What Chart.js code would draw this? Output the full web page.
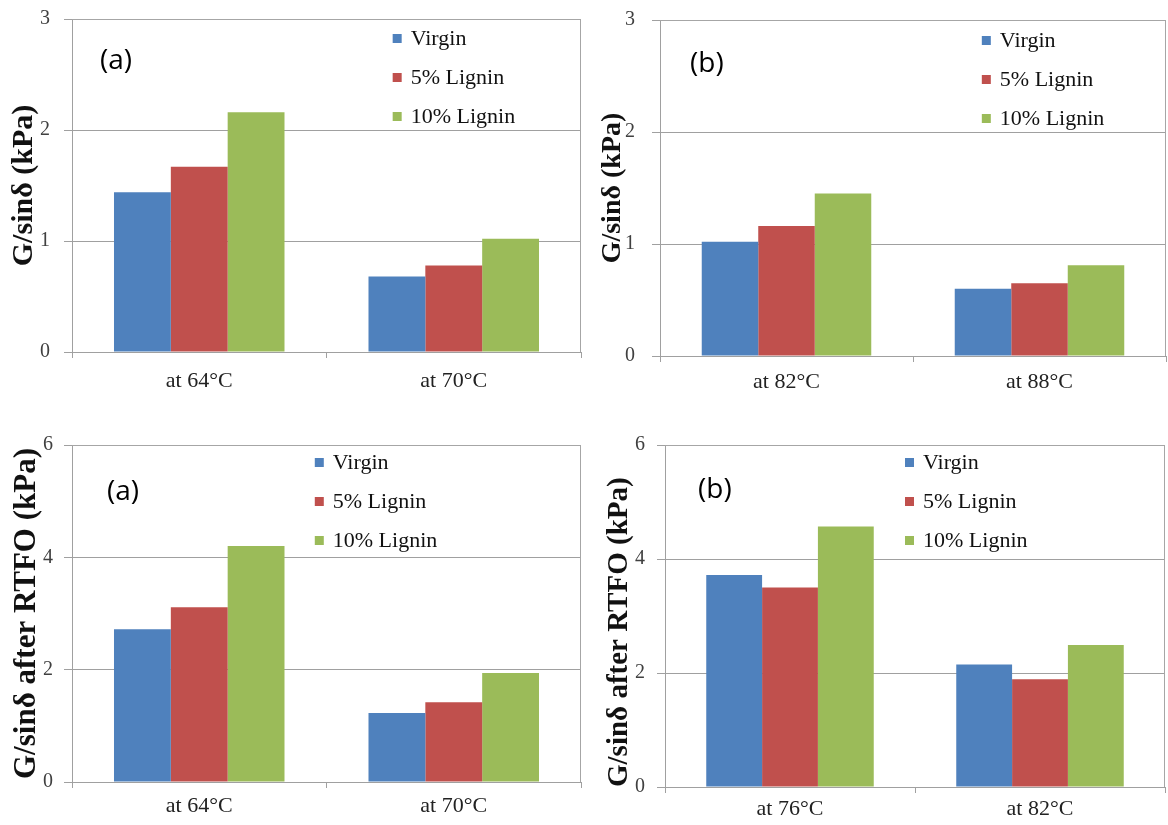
<!DOCTYPE html>
<html>
<head>
<meta charset="utf-8">
<script src="https://cdn.jsdelivr.net/npm/chart.js@4.4.1/dist/chart.umd.min.js"></script>
<style>
  body { margin: 0; background: #fff; }
  #wrap { position: relative; width: 1168px; height: 825px; background: #fff; }
  .panel { position: absolute; }
</style>
</head>
<body>
<div id="wrap">
  <div class="panel" style="left:0;top:0;width:584px;height:400px"><canvas id="c1"></canvas></div>
  <div class="panel" style="left:584px;top:0;width:584px;height:400px"><canvas id="c2"></canvas></div>
  <div class="panel" style="left:0;top:412px;width:584px;height:413px"><canvas id="c3"></canvas></div>
  <div class="panel" style="left:584px;top:412px;width:584px;height:413px"><canvas id="c4"></canvas></div>
</div>
<script>
// data
const seriesNames = ["Virgin", "5% Lignin", "10% Lignin"];
const seriesColors = ["#4F81BD", "#C0504D", "#9BBB59"];

const tempsA = ["at 64°C", "at 70°C"];
const virginA = [1.44, 0.68];
const lignin5A = [1.67, 0.78];
const lignin10A = [2.16, 1.02];

const tempsB = ["at 82°C", "at 88°C"];
const virginB = [1.02, 0.60];
const lignin5B = [1.16, 0.65];
const lignin10B = [1.45, 0.81];

const tempsRA = ["at 64°C", "at 70°C"];
const virginRA = [2.72, 1.23];
const lignin5RA = [3.11, 1.42];
const lignin10RA = [4.20, 1.94];

const tempsRB = ["at 76°C", "at 82°C"];
const virginRB = [3.72, 2.15];
const lignin5RB = [3.50, 1.89];
const lignin10RB = [4.57, 2.49];

const titleTop = "G/sinδ (kPa)";
const titleBottom = "G/sinδ after RTFO (kPa)";

const SERIF = "'Liberation Serif', 'Times New Roman', serif";

// legend + panel tag drawn inside the plot area
const insideText = {
  id: "insideText",
  beforeDatasetsDraw(chart) {
    // top and right frame of the plot area
    const { ctx, chartArea } = chart;
    ctx.save();
    ctx.strokeStyle = "#a6a6a6";
    ctx.lineWidth = 1;
    ctx.beginPath();
    ctx.moveTo(chartArea.left, chartArea.top + 0.5);
    ctx.lineTo(chartArea.right - 0.5, chartArea.top + 0.5);
    ctx.lineTo(chartArea.right - 0.5, chartArea.bottom);
    ctx.stroke();
    ctx.restore();
  },
  afterDraw(chart, args, opts) {
    const { ctx, chartArea } = chart;
    ctx.save();
    ctx.textBaseline = "middle";
    ctx.textAlign = "left";
    ctx.fillStyle = "#000";
    ctx.font = '28px "Open Sans"';
    ctx.fillText(opts.tag, chartArea.left + opts.tagX, chartArea.top + opts.tagY);

    const x0 = chartArea.left + opts.legendX * (chartArea.right - chartArea.left);
    ctx.font = "22px " + SERIF;
    chart.data.datasets.forEach((ds, i) => {
      const y = chartArea.top + opts.legendY + i * 39;
      ctx.fillStyle = ds.backgroundColor;
      ctx.fillRect(x0, y - 5, 9, 9);
      ctx.fillStyle = "#111";
      ctx.fillText(ds.label, x0 + 18, y);
    });
    ctx.restore();
  }
};

function makeChart(id, cats, values, yMax, yStep, title, p) {
  const datasets = values.map((v, i) => ({
    label: seriesNames[i],
    data: v,
    backgroundColor: seriesColors[i],
    borderWidth: 0,
    categoryPercentage: 0.67,
    barPercentage: 1.0
  }));

  return new Chart(document.getElementById(id), {
    type: "bar",
    data: { labels: cats, datasets: datasets },
    plugins: [insideText],
    options: {
      responsive: true,
      maintainAspectRatio: false,
      animation: false,
      layout: { padding: { left: 0, top: p.top, right: p.right, bottom: 0 } },
      plugins: {
        legend: { display: false },
        tooltip: { enabled: false },
        insideText: { tag: p.tag, tagX: p.tagX, tagY: p.tagY, legendX: p.legendX, legendY: p.legendY }
      },
      scales: {
        x: {
          grid: { display: true, drawOnChartArea: false, drawTicks: true, tickLength: 6, color: "#a0a0a0", offset: true },
          border: { color: "#a0a0a0" },
          ticks: { color: "#222", font: { family: SERIF, size: 22 }, padding: p.xPad, maxRotation: 0 },
          afterFit(scale) { scale.height = p.xH; scale.paddingLeft = 0; scale.paddingRight = 0; }
        },
        y: {
          min: 0,
          max: yMax,
          ticks: { stepSize: yStep, color: "#404040", font: { family: SERIF, size: 20 }, padding: p.yPad },
          grid: { color: "#a0a0a0", tickLength: 8 },
          border: { color: "#a0a0a0" },
          title: {
            display: true,
            text: title,
            color: "#111",
            align: p.titleAlign,
            font: { family: SERIF, size: p.titleSize, weight: "bold" },
            padding: { top: p.titlePad, bottom: 0 }
          },
          afterFit(scale) { scale.width = p.yW; scale.paddingTop = 0; scale.paddingBottom = 0; }
        }
      }
    }
  });
}

makeChart("c1", tempsA, [virginA, lignin5A, lignin10A], 3, 1, titleTop,
  { top: 19, right: 3, xH: 48, yW: 72, xPad: 10, yPad: 14, titleSize: 30, titlePad: 6, titleAlign: "center",
    tag: "(a)", tagX: 28, tagY: 42, legendX: 0.63, legendY: 20 });

makeChart("c2", tempsB, [virginB, lignin5B, lignin10B], 3, 1, titleTop,
  { top: 20, right: 2, xH: 44, yW: 76, xPad: 7, yPad: 17, titleSize: 28, titlePad: 12, titleAlign: "center",
    tag: "(b)", tagX: 30, tagY: 44, legendX: 0.636, legendY: 21 });

makeChart("c3", tempsRA, [virginRA, lignin5RA, lignin10RA], 6, 2, titleBottom,
  { top: 33, right: 3, xH: 43, yW: 72, xPad: 5, yPad: 11, titleSize: 31, titlePad: 8, titleAlign: "center",
    tag: "(a)", tagX: 35, tagY: 47, legendX: 0.477, legendY: 18 });

makeChart("c4", tempsRB, [virginRB, lignin5RB, lignin10RB], 6, 2, titleBottom,
  { top: 33, right: 3, xH: 38, yW: 81, xPad: 3, yPad: 12, titleSize: 29, titlePad: 18, titleAlign: "start",
    tag: "(b)", tagX: 33, tagY: 45, legendX: 0.48, legendY: 18 });
</script>
</body>
</html>
